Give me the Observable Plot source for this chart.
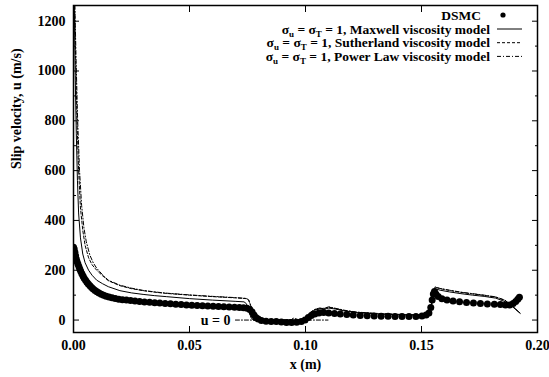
<!DOCTYPE html>
<html><head><meta charset="utf-8">
<script src="https://cdn.jsdelivr.net/npm/d3@7"></script>
<script src="https://cdn.jsdelivr.net/npm/@observablehq/plot@0.6"></script>
<style>html,body{margin:0;padding:0;background:#fff}#chart svg{display:block}</style>
</head><body><div id="chart"></div>
<script>
// DSMC data
const dsmcX = [0.0000,0.0003,0.0006,0.0009,0.0012,0.0015,0.0019,0.0023,0.0027,0.0031,0.0036,0.0041,0.0046,0.0052,0.0058,0.0064,0.0071,0.0078,0.0085,0.0093,0.0101,0.0110,0.0120,0.0130,0.0141,0.0153,0.0166,0.0180,0.0195,0.0211,0.0228,0.0246,0.0265,0.0285,0.0306,0.0328,0.0350,0.0372,0.0395,0.0418,0.0441,0.0464,0.0487,0.0510,0.0533,0.0556,0.0579,0.0602,0.0625,0.0648,0.0671,0.0694,0.0715,0.0733,0.0748,0.0760,0.0770,0.0778,0.0786,0.0796,0.0810,0.0830,0.0852,0.0874,0.0896,0.0918,0.0940,0.0962,0.0982,0.0998,0.1012,0.1025,0.1040,0.1058,0.1078,0.1100,0.1125,0.1150,0.1178,0.1206,0.1236,0.1266,0.1296,0.1326,0.1356,0.1386,0.1416,0.1446,0.1476,0.1502,0.1520,0.1532,0.1540,0.1546,0.1551,0.1556,0.1562,0.1572,0.1588,0.1610,0.1636,0.1664,0.1694,0.1724,0.1754,0.1784,0.1814,0.1840,0.1862,0.1880,0.1895,0.1906,0.1915,0.1922];
const dsmcU = [292,285,272,258,245,235,225,215,205,196,186,177,168,160,152,145,138,131,125,119,114,109,104,100,96,93,90,87,84,82,80,78,76,74,72,71,69,68,66,65,63,62,60,59,58,57,56,55,54,53,52,51,50,49,47,42,32,20,10,4,-2,-5,-6,-6,-8,-10,-10,-9,-6,0,10,18,24,28,30,28,26,24,22,20,18,17,16,15,15,14,14,14,14,16,20,28,50,80,105,115,105,95,86,80,76,73,70,68,66,64,63,62,60,60,66,74,84,92];

// Maxwell viscosity model
const maxwellX = [0.0003,0.0007,0.0012,0.0017,0.0022,0.0030,0.0040,0.0050,0.0065,0.0080,0.0100,0.0125,0.0150,0.0200,0.0250,0.0300,0.0350,0.0400,0.0500,0.0600,0.0700,0.0735,0.0745,0.0755,0.0765,0.0775,0.0995,0.1005,0.1020,0.1040,0.1060,0.1080,0.1100,0.1130,0.1170,0.1220,0.1300,0.1400,0.1500,0.1532,0.1542,0.1550,0.1557,0.1580,0.1620,0.1670,0.1720,0.1770,0.1820,0.1860,0.1890,0.1925];
const maxwellU = [1300,1000,750,560,430,330,265,230,200,180,160,146,134,118,109,103,98,94,86,80,75,73,66,40,10,0,0,10,28,40,44,43,48,44,36,30,25,21,19,19,50,100,126,120,113,106,100,95,88,74,55,28];

// Sutherland viscosity model
const sutherlandX = [0.0004,0.0009,0.0015,0.0022,0.0030,0.0040,0.0050,0.0065,0.0080,0.0100,0.0125,0.0150,0.0200,0.0250,0.0300,0.0350,0.0400,0.0500,0.0600,0.0700,0.0745,0.0755,0.0765,0.0775,0.0785,0.0795,0.0995,0.1005,0.1020,0.1040,0.1060,0.1080,0.1100,0.1130,0.1170,0.1220,0.1300,0.1400,0.1500,0.1532,0.1542,0.1550,0.1558,0.1580,0.1620,0.1670,0.1720,0.1770,0.1820,0.1860,0.1890,0.1925];
const sutherlandU = [1300,1050,800,600,450,360,300,250,222,200,178,158,138,126,118,112,107,100,94,89,86,80,55,20,3,0,0,10,30,42,47,46,52,46,38,31,26,22,20,20,55,105,132,126,119,111,105,99,92,79,58,27];

// Power Law viscosity model
const powerX = [0.0005,0.0011,0.0018,0.0026,0.0035,0.0045,0.0055,0.0070,0.0085,0.0100,0.0125,0.0150,0.0200,0.0250,0.0300,0.0350,0.0400,0.0500,0.0600,0.0700,0.0745,0.0755,0.0765,0.0775,0.0785,0.0795,0.0930,0.0950,0.0970,0.0995,0.1005,0.1020,0.1040,0.1060,0.1080,0.1100,0.1130,0.1170,0.1220,0.1300,0.1400,0.1500,0.1532,0.1542,0.1550,0.1558,0.1580,0.1620,0.1670,0.1720,0.1770,0.1820,0.1860,0.1890,0.1925];
const powerU = [1300,1050,800,600,460,370,315,262,230,208,182,160,140,128,119,113,108,101,95,90,87,81,56,21,3,0,0,8,0,0,10,30,43,48,47,53,47,39,32,27,23,21,21,56,106,133,127,120,112,106,100,93,80,58,27];

// reference line u = 0
const zeroLineX = [0.0698, 0.1097];
const zeroLineU = [0, 0];
const zeroLabel = "u = 0";

// axes
const xTicks = [0, 0.05, 0.10, 0.15, 0.20];
const yTicks = [0, 200, 400, 600, 800, 1000, 1200];
const yMinor = [100, 300, 500, 700, 900, 1100];
const xTitle = "x (m)";
const yTitle = "Slip velocity, u (m/s)";

// legend
const legendNames = ["Maxwell viscosity model", "Sutherland viscosity model", "Power Law viscosity model"];
const legendDash = [null, "3,2", "4,2,1,2"];

const toRows = (xs, ys) => xs.map((x, i) => ({x, u: ys[i]}));
const dsmc = toRows(dsmcX, dsmcU);
const maxwell = toRows(maxwellX, maxwellU);
const sutherland = toRows(sutherlandX, sutherlandU);
const power = toRows(powerX, powerU);
const zeroLine = toRows(zeroLineX, zeroLineU);

const font = "'Liberation Serif','Times New Roman',serif";
const blank = () => "";

const chart = Plot.plot({
  width: 549, height: 377,
  marginLeft: 73, marginRight: 12, marginTop: 5, marginBottom: 45,
  style: {fontFamily: font, fontSize: "14px", fontWeight: "bold", color: "#000", background: "#fff"},
  x: {domain: [0, 0.2]},
  y: {domain: [-50, 1263]},
  marks: [
    Plot.axisX(xTicks, {anchor: "bottom", tickSize: 0, tickPadding: 8, tickFormat: d3.format(".2f"), label: null}),
    Plot.axisX(xTicks, {anchor: "bottom", tickSize: -6, tickFormat: blank, label: null}),
    Plot.axisX(xTicks, {anchor: "top", tickSize: -6, tickFormat: blank, label: null}),
    Plot.axisY(yTicks, {anchor: "left", tickSize: 0, tickPadding: 8, tickFormat: d3.format("d"), label: null}),
    Plot.axisY(yTicks, {anchor: "left", tickSize: -6, tickFormat: blank, label: null}),
    Plot.axisY(yMinor, {anchor: "left", tickSize: -3, tickFormat: blank, label: null}),
    Plot.axisY(yTicks, {anchor: "right", tickSize: -6, tickFormat: blank, label: null}),
    Plot.axisY(yMinor, {anchor: "right", tickSize: -3, tickFormat: blank, label: null}),
    Plot.line(zeroLine, {x: "x", y: "u", stroke: "#000", strokeWidth: 1, strokeDasharray: "4,2,1,2"}),
    Plot.text([zeroLabel], {x: [zeroLineX[0]], y: [0], textAnchor: "end", dx: -5, fontSize: 14}),
    Plot.line(maxwell, {x: "x", y: "u", stroke: "#000", strokeWidth: 1, clip: true}),
    Plot.line(sutherland, {x: "x", y: "u", stroke: "#000", strokeWidth: 1, strokeDasharray: "3,2", clip: true}),
    Plot.line(power, {x: "x", y: "u", stroke: "#000", strokeWidth: 1, strokeDasharray: "4,2,1,2", clip: true}),
    Plot.dot(dsmc, {x: "x", y: "u", r: 3.5, fill: "#000", stroke: "none", clip: true}),
    Plot.frame({stroke: "#000", strokeWidth: 1.5}),
    Plot.text([xTitle], {frameAnchor: "bottom", dy: 36, fontSize: 14}),
    Plot.text([yTitle], {frameAnchor: "left", dx: -57, rotate: -90, fontSize: 14})
  ]
});

const svg = d3.select(chart);
const lg = svg.append("g").attr("font-family", font).attr("font-weight", "bold").attr("font-size", 13.5).attr("fill", "#000");
const textRight = 490, sampleX0 = 497, sampleX1 = 522;
const rowBase = [19.5, 33.5, 47.2, 60.9];
lg.append("text").attr("x", textRight - 9).attr("y", rowBase[0]).attr("text-anchor", "end").text("DSMC");
lg.append("circle").attr("cx", 503).attr("cy", rowBase[0] - 4.5).attr("r", 2.6).attr("fill", "#000");
legendNames.forEach((name, i) => {
  const y = rowBase[i + 1];
  const t = lg.append("text").attr("x", textRight).attr("y", y).attr("text-anchor", "end");
  t.append("tspan").text("σ");
  t.append("tspan").attr("font-size", 9).attr("dy", 3).text("u");
  t.append("tspan").attr("dy", -3).text(" = σ");
  t.append("tspan").attr("font-size", 9).attr("dy", 3).text("T");
  t.append("tspan").attr("dy", -3).text(" = 1, " + name);
  const l = lg.append("line").attr("x1", sampleX0).attr("x2", sampleX1).attr("y1", y - 4.5).attr("y2", y - 4.5)
    .attr("stroke", "#000").attr("stroke-width", 1);
  if (legendDash[i]) l.attr("stroke-dasharray", legendDash[i]);
});

document.getElementById("chart").appendChild(chart);
</script>
</body></html>
